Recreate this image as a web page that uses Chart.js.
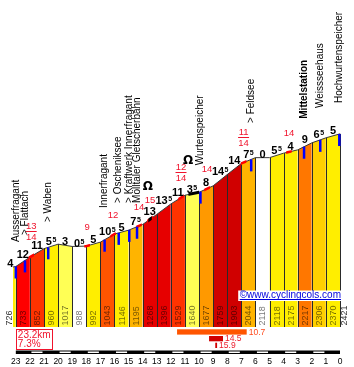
<!DOCTYPE html>
<html>
<head>
<meta charset="utf-8">
<script src="https://cdn.jsdelivr.net/npm/chart.js@4.4.1/dist/chart.umd.min.js"></script>
<style>
  html, body { margin: 0; padding: 0; background: #fff; }
  canvas { display: block; }
</style>
</head>
<body>
<canvas id="profile" width="354" height="367"></canvas>
<script>
// profile: km to the top and height at each mark
const kms = [23.2, 23, 22, 21, 20, 19, 18, 17, 16, 15, 14, 13, 12, 11, 10, 9, 8, 7, 6, 5, 4, 3, 2, 1, 0];
const heights = [726, 733, 852, 960, 1017, 988, 992, 1043, 1146, 1195, 1268, 1396, 1529, 1640, 1677, 1759, 1903, 2044, 2118, 2118, 2175, 2217, 2306, 2370, 2421];
const grades = [4, 12, 11, 5.5, 3, 0.5, 5, 10.5, 5, 7.5, 13, 13.5, 11, 3.5, 8, 14.5, 14, 7.5, 0, 5.5, 4, 9, 6.5, 5];

// places along the road
const placeNames = ['Ausserfragant', '> Flattach', '> Waben', 'Innerfragant', '> Oscheniksee', '> Kraftwerk Innerfragant', 'Mölltaler Gletscherbahn', 'Wurtenspeicher', '> Feldsee', 'Mittelstation', 'Weissseehaus', 'Hochwurtenspeicher'];
const placeKm = [23.0, 22.35, 20.7, 16.7, 15.7, 14.95, 14.4, 9.9, 6.3, 2.55, 1.4, 0.05];

// steepest bits (max % over short stretch)
const steepKm = [21.91, 17.94, 16.1, 14.26, 13.48, 11.28, 9.43, 6.84, 3.62];
const steepTop = [13, null, null, null, null, 12, null, 11, null];
const steepMax = [14, 9, 12, 14, 15, 14, 14, 14, 14];

// tunnels
const tunnelFrom = [13.6, 10.75];
const tunnelTo = [13.35, 10.0];

// best stretches
const statFrom = [11.56, 9.29, 8.85];
const statTo = [6.62, 8.3, 8.72];
const statGrade = [10.7, 14.5, 15.9];

const totalKm = 23.2;
const avgGrade = 7.3;
const tickKm = [23, 22, 21, 20, 19, 18, 17, 16, 15, 14, 13, 12, 11, 10, 9, 8, 7, 6, 5, 4, 3, 2, 1, 0];

// layout only
const nameLift = [24.5, 25.4, 25.3, 31.7, 30, 27, 23.8, 26.4, 36.4, 28, 31.8, 31];
const statText = ['#ff4a1c', '#ec1c2c', '#ec1c2c'];
const FONT = '"Liberation Sans", Arial, sans-serif';

function gradeColor(g) {
  if (g < 1) return '#ffffff';
  if (g < 4) return '#ffff55';
  if (g < 6) return '#ffee00';
  if (g < 7) return '#ffd000';
  if (g < 8) return '#ffb400';
  if (g < 8.5) return '#ff9900';
  if (g < 10) return '#ff7700';
  if (g < 10.8) return '#ff5500';
  if (g < 11.5) return '#ff3300';
  if (g < 12.5) return '#ff0000';
  if (g < 14) return '#e60000';
  return '#d00000';
}

function rotText(ctx, txt, x, yBottom) {
  ctx.save();
  ctx.translate(x, yBottom);
  ctx.rotate(-Math.PI / 2);
  ctx.textAlign = 'left';
  ctx.textBaseline = 'middle';
  ctx.fillText(txt, 0, 0);
  ctx.restore();
}

const extras = {
  id: 'extras',
  afterDatasetsDraw(chart) {
    const ctx = chart.ctx;
    const xs = chart.scales.x;
    const area = chart.chartArea;
    const pts = chart.getDatasetMeta(0).data;
    const px = km => xs.getPixelForValue(km);
    const py = km => {
      const x = px(km);
      for (let i = 0; i < pts.length - 1; i++) {
        const a = pts[i], b = pts[i + 1];
        if (x >= a.x && x <= b.x) return a.y + (b.y - a.y) * (x - a.x) / (b.x - a.x);
      }
      return x < pts[0].x ? pts[0].y : pts[pts.length - 1].y;
    };
    const tracePath = () => {
      ctx.beginPath();
      pts.forEach((p, i) => i ? ctx.lineTo(p.x, p.y) : ctx.moveTo(p.x, p.y));
    };
    const strokeRange = (kmA, kmB, color, width) => {
      const xa = px(kmA), xb = px(kmB);
      ctx.save();
      ctx.beginPath();
      ctx.rect(Math.min(xa, xb), area.top, Math.abs(xb - xa), area.bottom - area.top);
      ctx.clip();
      tracePath();
      ctx.strokeStyle = color;
      ctx.lineWidth = width;
      ctx.lineJoin = 'round';
      ctx.stroke();
      ctx.restore();
    };

    ctx.save();

    // column separators
    ctx.strokeStyle = '#2a2a2a';
    ctx.lineWidth = 1;
    for (let i = 1; i < pts.length; i++) {
      const x = Math.round(pts[i].x) + 0.5;
      ctx.beginPath();
      ctx.moveTo(x, pts[i].y);
      ctx.lineTo(x, area.bottom);
      ctx.stroke();
    }

    // steep bits and tunnels on the road line
    steepKm.forEach(km => strokeRange(km + 0.2, km - 0.2, '#ff0000', 2.5));
    tunnelFrom.forEach((km, i) => strokeRange(km, tunnelTo[i], '#000', 3));

    // heights inside the columns
    ctx.font = '9px ' + FONT;
    ctx.fillStyle = 'rgba(0,0,0,0.55)';
    for (let i = 1; i < heights.length - 1; i++) {
      rotText(ctx, String(heights[i]), (pts[i].x + pts[i + 1].x) / 2 + 0.5, area.bottom - 1.5);
    }
    ctx.fillStyle = '#333';
    rotText(ctx, String(heights[0]), pts[0].x - 3, area.bottom - 1.5);
    rotText(ctx, String(heights[heights.length - 1]), pts[pts.length - 1].x + 5, area.bottom - 1.5);

    // place markers
    ctx.strokeStyle = '#0000ff';
    ctx.lineWidth = 2.5;
    placeKm.forEach(km => {
      const x = px(km), y = py(km);
      ctx.beginPath();
      ctx.moveTo(x, y);
      ctx.lineTo(x, y + 12);
      ctx.stroke();
    });

    // gradient per km
    ctx.fillStyle = '#000';
    ctx.textAlign = 'left';
    ctx.textBaseline = 'alphabetic';
    for (let i = 0; i < grades.length; i++) {
      const p0 = pts[i], p1 = pts[i + 1];
      const whole = String(Math.floor(grades[i]));
      const half = grades[i] % 1 !== 0;
      ctx.font = 'bold 11px ' + FONT;
      const w1 = ctx.measureText(whole).width;
      ctx.font = 'bold 7px ' + FONT;
      const w2 = half ? ctx.measureText('5').width + 0.5 : 0;
      const tw = w1 + w2;
      let left = (p0.x + p1.x) / 2 - tw / 2;
      if (p1.x - p0.x < 8) left = p1.x - 2.5 - tw;
      const base = Math.min(p0.y, p1.y) + 0.5;
      ctx.font = 'bold 11px ' + FONT;
      ctx.fillText(whole, left, base);
      if (half) {
        ctx.font = 'bold 7px ' + FONT;
        ctx.fillText('5', left + w1 + 0.5, base - 3);
      }
    }

    // steepest values in red
    ctx.fillStyle = '#f0142d';
    ctx.strokeStyle = '#f0142d';
    ctx.font = '9.5px ' + FONT;
    ctx.textAlign = 'center';
    ctx.textBaseline = 'middle';
    steepKm.forEach((km, i) => {
      const x = px(km), y = py(km);
      if (steepTop[i] == null) {
        ctx.fillText(String(steepMax[i]), x, y - 19);
      } else {
        const ly = Math.round(y - 25.5) + 0.5;
        ctx.fillText(String(steepTop[i]), x, ly - 5);
        ctx.fillText(String(steepMax[i]), x, ly + 5.5);
        ctx.lineWidth = 1;
        ctx.beginPath();
        ctx.moveTo(x - 5.5, ly);
        ctx.lineTo(x + 5.5, ly);
        ctx.stroke();
      }
    });

    // tunnel icons
    ctx.fillStyle = '#000';
    ctx.font = 'bold 12px "DejaVu Sans"';
    tunnelFrom.forEach(km => ctx.fillText('Ω', px(km) - 0.5, py(km) - 34));

    // place names
    placeNames.forEach((name, i) => {
      ctx.font = (name === 'Mittelstation' ? 'bold ' : '') + '10px ' + FONT;
      ctx.fillStyle = '#000';
      rotText(ctx, name, px(placeKm[i]), py(placeKm[i]) - nameLift[i]);
    });

    // site credit
    const credit = '©www.cyclingcols.com';
    ctx.font = '10px ' + FONT;
    const cw = ctx.measureText(credit).width;
    const cx = area.right + 1 - cw;
    const cy = area.bottom - 29;
    ctx.fillStyle = '#fff';
    ctx.fillRect(cx - 1.5, area.bottom - 36.5, cw + 3, 10.5);
    ctx.fillStyle = '#0000dd';
    ctx.textAlign = 'left';
    ctx.textBaseline = 'alphabetic';
    ctx.fillText(credit, cx, cy);
    ctx.fillRect(cx, cy + 1, cw, 1);

    // summary box
    const bx = px(23);
    ctx.strokeStyle = '#f0142d';
    ctx.lineWidth = 1;
    ctx.strokeRect(Math.round(bx) + 0.5, area.bottom + 2.5, 36, 20);
    ctx.fillStyle = '#f0142d';
    ctx.font = '10px ' + FONT;
    ctx.fillText(totalKm.toFixed(1) + 'km', bx + 2, area.bottom + 10.5);
    ctx.fillText(avgGrade.toFixed(1) + '%', bx + 2, area.bottom + 19.5);

    // best stretches
    ctx.font = '8.5px ' + FONT;
    ctx.textBaseline = 'middle';
    statGrade.forEach((g, i) => {
      const xa = px(statFrom[i]), xb = px(statTo[i]);
      const top = area.bottom + 2.3 + i * 6.7;
      ctx.fillStyle = gradeColor(g);
      ctx.fillRect(xa, top, xb - xa, 5.3);
      ctx.fillStyle = statText[i];
      ctx.fillText(g.toFixed(1), xb + 2, top + 3);
    });

    // km scale
    const s0 = px(23), s1 = px(0);
    ctx.fillStyle = '#000';
    ctx.fillRect(s0, area.bottom + 23.5, s1 - s0, 3.5);
    ctx.fillStyle = '#fff';
    for (let k = 22; k > 0; k -= 2) {
      const a = px(k), b = px(k - 1);
      ctx.fillRect(a + 1.5, area.bottom + 24.5, b - a - 3, 1.5);
    }
    ctx.fillStyle = '#000';
    ctx.font = '8.5px ' + FONT;
    ctx.textAlign = 'center';
    ctx.textBaseline = 'alphabetic';
    tickKm.forEach(k => ctx.fillText(String(k), px(k), area.bottom + 37));

    ctx.restore();
  }
};

new Chart(document.getElementById('profile'), {
  type: 'line',
  data: {
    datasets: [{
      data: kms.map((k, i) => ({ x: k, y: heights[i] })),
      borderColor: '#3a3a3a',
      borderWidth: 1,
      pointRadius: 0,
      tension: 0,
      fill: 'start',
      backgroundColor: '#ffffff',
      segment: {
        backgroundColor: c => gradeColor(grades[c.p0DataIndex])
      }
    }]
  },
  options: {
    responsive: false,
    animation: false,
    devicePixelRatio: 1,
    layout: { padding: { left: 13, right: 14, top: 0, bottom: 40 } },
    scales: {
      x: { type: 'linear', reverse: true, min: 0, max: 23.2, display: false },
      y: { type: 'linear', min: -37, max: 4124, display: false }
    },
    plugins: {
      legend: { display: false },
      tooltip: { enabled: false }
    }
  },
  plugins: [extras]
});
</script>
</body>
</html>
